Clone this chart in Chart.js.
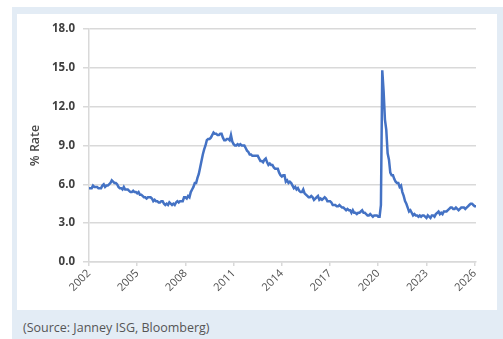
<!DOCTYPE html>
<html>
<head>
<meta charset="utf-8">
<script src="https://cdn.jsdelivr.net/npm/chart.js@4/dist/chart.umd.min.js"></script>
<style>
  html, body { margin: 0; padding: 0; background: #ffffff; width: 503px; height: 339px; overflow: hidden; }
  #frame { position: absolute; left: 12px; top: 7px; width: 491px; height: 332px; background: #e3ecf5; }
  #panel { position: absolute; left: 5px; top: 7px; width: 480px; height: 296px; background: #ffffff; }
  #panel canvas { display: block; }
  #source { position: absolute; left: 11px; top: 312px; font-family: "Open Sans", "Liberation Sans", sans-serif; font-size: 12.5px; color: #555555; white-space: nowrap; }
</style>
</head>
<body>
<div id="frame">
  <div id="panel"><canvas id="chart" width="480" height="296"></canvas></div>
  <div id="source">(Source: Janney ISG, Bloomberg)</div>
</div>
<script>
// Monthly unemployment rate (%), January 2002 onward
const startYear = 2002;
const unemploymentRate = [
  5.7, 5.7, 5.7, 5.9, 5.8, 5.8, 5.8, 5.7, 5.7, 5.7, 5.9, 6.0,   // 2002
  5.8, 5.9, 5.9, 6.0, 6.1, 6.3, 6.2, 6.1, 6.1, 6.0, 5.8, 5.7,   // 2003
  5.7, 5.6, 5.8, 5.6, 5.6, 5.6, 5.5, 5.4, 5.4, 5.5, 5.4, 5.4,   // 2004
  5.3, 5.4, 5.2, 5.2, 5.1, 5.0, 5.0, 4.9, 5.0, 5.0, 5.0, 4.9,   // 2005
  4.7, 4.8, 4.7, 4.7, 4.6, 4.6, 4.7, 4.7, 4.5, 4.4, 4.5, 4.4,   // 2006
  4.6, 4.5, 4.4, 4.5, 4.4, 4.6, 4.7, 4.6, 4.7, 4.7, 4.7, 5.0,   // 2007
  5.0, 4.9, 5.1, 5.0, 5.4, 5.6, 5.8, 6.1, 6.1, 6.5, 6.8, 7.3,   // 2008
  7.8, 8.3, 8.7, 9.0, 9.4, 9.5, 9.5, 9.6, 9.8, 10.0, 9.9, 9.9,  // 2009
  9.8, 9.8, 9.9, 9.9, 9.6, 9.4, 9.4, 9.5, 9.5, 9.4, 9.8, 9.3,   // 2010
  9.1, 9.0, 9.0, 9.1, 9.0, 9.1, 9.0, 9.0, 9.0, 8.8, 8.6, 8.5,   // 2011
  8.3, 8.3, 8.2, 8.2, 8.2, 8.2, 8.2, 8.0, 7.8, 7.8, 7.7, 7.9,   // 2012
  8.0, 7.7, 7.5, 7.6, 7.5, 7.5, 7.3, 7.2, 7.2, 7.2, 6.9, 6.7,   // 2013
  6.6, 6.7, 6.7, 6.2, 6.3, 6.1, 6.2, 6.1, 5.9, 5.7, 5.8, 5.6,   // 2014
  5.7, 5.5, 5.4, 5.4, 5.6, 5.3, 5.2, 5.1, 5.0, 5.0, 5.1, 5.0,   // 2015
  4.8, 4.9, 5.0, 5.1, 4.8, 4.9, 4.8, 4.9, 5.0, 4.9, 4.7, 4.7,   // 2016
  4.7, 4.6, 4.4, 4.4, 4.4, 4.3, 4.3, 4.4, 4.3, 4.2, 4.2, 4.1,   // 2017
  4.0, 4.1, 4.0, 4.0, 3.8, 4.0, 3.8, 3.8, 3.7, 3.8, 3.8, 3.9,   // 2018
  4.0, 3.8, 3.8, 3.7, 3.6, 3.6, 3.7, 3.6, 3.5, 3.6, 3.6, 3.6,   // 2019
  3.5, 3.5, 4.4, 14.8, 13.2, 11.0, 10.2, 8.4, 7.9, 6.9, 6.7, 6.7, // 2020
  6.4, 6.2, 6.1, 6.1, 5.8, 5.9, 5.4, 5.1, 4.7, 4.5, 4.2, 3.9,   // 2021
  4.0, 3.8, 3.6, 3.7, 3.6, 3.6, 3.5, 3.6, 3.5, 3.6, 3.6, 3.5,   // 2022
  3.4, 3.6, 3.5, 3.4, 3.6, 3.6, 3.5, 3.7, 3.8, 3.9, 3.7, 3.8,   // 2023
  3.7, 3.9, 3.9, 3.9, 4.0, 4.1, 4.2, 4.2, 4.1, 4.1, 4.2, 4.1,   // 2024
  4.0, 4.1, 4.2, 4.2, 4.2, 4.1, 4.2, 4.3, 4.4, 4.5, 4.5, 4.4,   // 2025
  4.3, 4.3                                                      // 2026
];
const yearTicks = [2002, 2005, 2008, 2011, 2014, 2017, 2020, 2023, 2026];
const rateTicks = [0, 3, 6, 9, 12, 15, 18];

const points = unemploymentRate.map((v, i) => ({ x: startYear + i / 12, y: v }));
const lastX = points[points.length - 1].x;

const gridGrey = '#d9d9d9';
const fontFamily = '"Open Sans", "Liberation Sans", sans-serif';

new Chart(document.getElementById('chart'), {
  type: 'line',
  data: {
    datasets: [{
      data: points,
      borderColor: '#4472c4',
      borderWidth: 2.5,
      pointRadius: 0,
      tension: 0,
      fill: false
    }]
  },
  options: {
    responsive: false,
    animation: false,
    events: [],
    layout: { padding: { top: 12, right: 21, left: 0, bottom: 0 } },
    plugins: { legend: { display: false }, tooltip: { enabled: false } },
    scales: {
      x: {
        type: 'linear',
        min: startYear,
        max: lastX,
        afterBuildTicks: (s) => { s.ticks = yearTicks.map(v => ({ value: v })); },
        afterFit: (s) => { s.height = 48; },
        grid: { display: true, drawOnChartArea: false, drawTicks: true, tickLength: 4, color: gridGrey, lineWidth: 1.5 },
        border: { display: true, color: gridGrey, width: 1.5 },
        ticks: {
          minRotation: 45, maxRotation: 45, autoSkip: false, padding: 1,
          color: '#505050',
          font: { family: fontFamily, size: 11 },
          callback: (v) => String(v)
        }
      },
      y: {
        min: 0,
        max: 18,
        afterBuildTicks: (s) => { s.ticks = rateTicks.map(v => ({ value: v })); },
        afterFit: (s) => { s.width = 72; },
        grid: { color: gridGrey, lineWidth: 1.5, tickLength: 6 },
        border: { display: true, color: gridGrey, width: 1.5 },
        ticks: {
          padding: 8,
          color: '#3f3f3f',
          font: { family: fontFamily, size: 11.5, weight: 'bold' },
          callback: (v) => Number(v).toFixed(1)
        },
        title: {
          display: true,
          text: '% Rate',
          color: '#4a4a4a',
          padding: { top: 11, bottom: 0 },
          font: { family: fontFamily, size: 12.5, weight: '600' }
        }
      }
    }
  }
});
</script>
</body>
</html>
